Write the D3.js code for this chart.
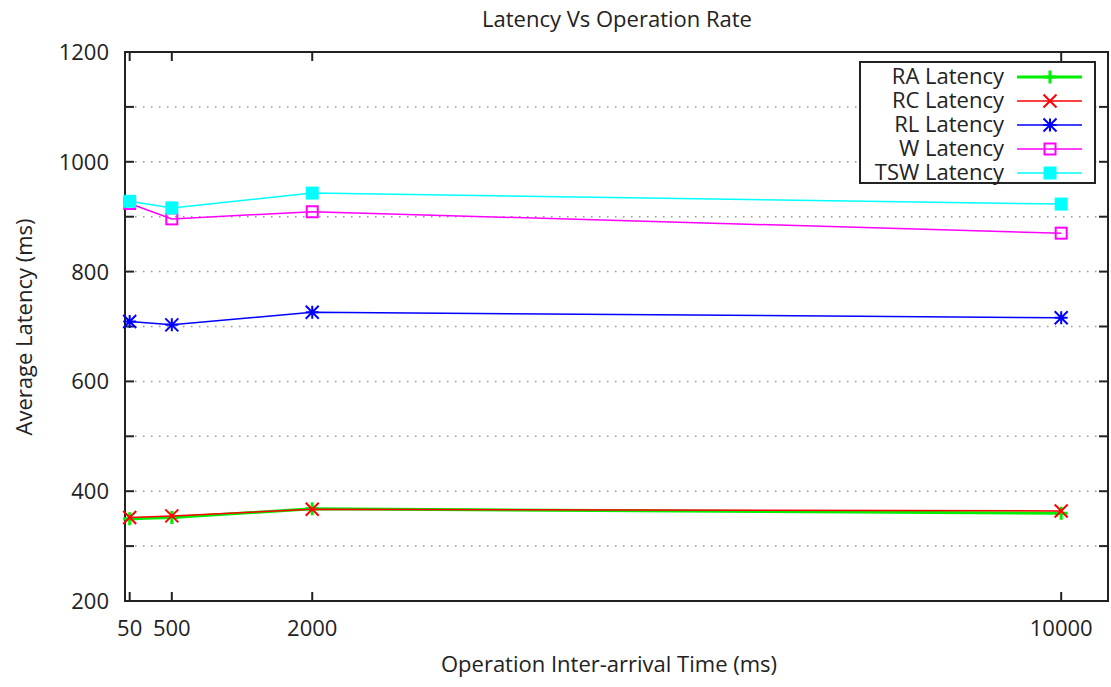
<!DOCTYPE html>
<html>
<head>
<meta charset="utf-8">
<script src="https://cdn.jsdelivr.net/npm/d3@7"></script>
<style>
  body { margin: 0; background: #fff; }
  text { font-family: "Open Sans", "DejaVu Sans", sans-serif; fill: #222; font-size: 22px; }
</style>
</head>
<body>
<svg id="chart" width="1111" height="687"></svg>
<script>
// x positions (inter-arrival time, ms)
const times = [50, 500, 2000, 10000];
const xTicks = [50, 500, 2000, 10000];
const yTicks = [200, 400, 600, 800, 1000, 1200];
const yMinor = [300, 500, 700, 900, 1100];

// latency values per series
const raLatency = [350, 352, 368, 360];
const rcLatency = [352, 355, 367, 364];
const rlLatency = [709, 703, 726, 716];
const wLatency = [924, 896, 909, 870];
const tswLatency = [928, 916, 943, 923];

const series = [
    { name: "RA Latency", values: raLatency, color: "#00ee00", width: 3, marker: "plus" },
    { name: "RC Latency", values: rcLatency, color: "#ff0000", width: 1.5, marker: "cross" },
    { name: "RL Latency", values: rlLatency, color: "#0000ff", width: 1.5, marker: "star" },
    { name: "W Latency", values: wLatency, color: "#ff00ff", width: 1.5, marker: "box" },
    { name: "TSW Latency", values: tswLatency, color: "#00ffff", width: 1.5, marker: "fbox" }
];

const svg = d3.select("#chart");
const margin = { top: 52, right: 3, bottom: 86, left: 125 };
const width = +svg.attr("width");
const height = +svg.attr("height");

const x = d3.scaleLinear()
    .domain([0, 10500])
    .range([margin.left, width - margin.right]);

const y = d3.scaleLinear()
    .domain([200, 1200])
    .range([height - margin.bottom, margin.top]);

// dotted grid lines
svg.append("g")
    .selectAll("line")
    .data(yTicks.concat(yMinor).filter(v => v > 200 && v < 1200))
    .enter().append("line")
    .attr("x1", x(0) + 10)
    .attr("x2", x(10500) - 10)
    .attr("y1", d => y(d))
    .attr("y2", d => y(d))
    .attr("stroke", "#999")
    .attr("stroke-width", 1.5)
    .attr("stroke-dasharray", "1.5,6.5");

// inward ticks, all four sides
const tickG = svg.append("g").attr("stroke", "#222").attr("stroke-width", 2);
const allY = yTicks.concat(yMinor);
tickG.selectAll(".tl").data(allY).enter().append("line")
    .attr("x1", x(0)).attr("x2", x(0) + 9)
    .attr("y1", d => y(d)).attr("y2", d => y(d));
tickG.selectAll(".tr").data(allY).enter().append("line")
    .attr("x1", x(10500)).attr("x2", x(10500) - 9)
    .attr("y1", d => y(d)).attr("y2", d => y(d));
tickG.selectAll(".tb").data(xTicks).enter().append("line")
    .attr("x1", d => x(d)).attr("x2", d => x(d))
    .attr("y1", y(200)).attr("y2", y(200) - 9);
tickG.selectAll(".tt").data(xTicks).enter().append("line")
    .attr("x1", d => x(d)).attr("x2", d => x(d))
    .attr("y1", y(1200)).attr("y2", y(1200) + 9);

// frame
svg.append("rect")
    .attr("x", x(0))
    .attr("y", y(1200))
    .attr("width", x(10500) - x(0))
    .attr("height", y(200) - y(1200))
    .attr("fill", "none")
    .attr("stroke", "#222")
    .attr("stroke-width", 2);

// tick labels
svg.append("g")
    .selectAll("text")
    .data(yTicks)
    .enter().append("text")
    .attr("x", x(0) - 16)
    .attr("y", d => y(d) + 8)
    .attr("text-anchor", "end")
    .text(d => d);

svg.append("g")
    .selectAll("text")
    .data(xTicks)
    .enter().append("text")
    .attr("x", d => x(d))
    .attr("y", y(200) + 35)
    .attr("text-anchor", "middle")
    .text(d => d);

// titles
svg.append("text")
    .attr("x", 617)
    .attr("y", 27)
    .attr("text-anchor", "middle")
    .text("Latency Vs Operation Rate");

svg.append("text")
    .attr("x", 609)
    .attr("y", 672)
    .attr("text-anchor", "middle")
    .text("Operation Inter-arrival Time (ms)");

svg.append("text")
    .attr("transform", "translate(32,327) rotate(-90)")
    .attr("text-anchor", "middle")
    .text("Average Latency (ms)");

// marker drawing
function drawMarker(g, type, color, cx, cy) {
    const s = 6.5;
    if (type === "plus") {
        g.append("path").attr("d", `M${cx - s},${cy}H${cx + s}M${cx},${cy - s}V${cy + s}`)
            .attr("stroke", color).attr("stroke-width", 3).attr("fill", "none");
    } else if (type === "cross") {
        g.append("path").attr("d", `M${cx - s},${cy - s}L${cx + s},${cy + s}M${cx - s},${cy + s}L${cx + s},${cy - s}`)
            .attr("stroke", color).attr("stroke-width", 2).attr("fill", "none");
    } else if (type === "star") {
        g.append("path").attr("d", `M${cx - s},${cy}H${cx + s}M${cx},${cy - s}V${cy + s}M${cx - s},${cy - s}L${cx + s},${cy + s}M${cx - s},${cy + s}L${cx + s},${cy - s}`)
            .attr("stroke", color).attr("stroke-width", 2).attr("fill", "none");
    } else if (type === "box") {
        g.append("rect").attr("x", cx - 5.5).attr("y", cy - 5.5).attr("width", 11).attr("height", 11)
            .attr("stroke", color).attr("stroke-width", 2).attr("fill", "none");
    } else if (type === "fbox") {
        g.append("rect").attr("x", cx - 6.5).attr("y", cy - 6.5).attr("width", 13).attr("height", 13)
            .attr("fill", color);
    }
}

const line = d3.line()
    .x((d, i) => x(times[i]))
    .y(d => y(d));

series.forEach(s => {
    const g = svg.append("g");
    g.append("path")
        .datum(s.values)
        .attr("d", line)
        .attr("fill", "none")
        .attr("stroke", s.color)
        .attr("stroke-width", s.width);
    s.values.forEach((v, i) => drawMarker(g, s.marker, s.color, x(times[i]), y(v)));
});

// legend
const legend = svg.append("g");
legend.append("rect")
    .attr("x", 860).attr("y", 62)
    .attr("width", 235).attr("height", 121)
    .attr("fill", "#fff")
    .attr("stroke", "#222")
    .attr("stroke-width", 2);

series.forEach((s, i) => {
    const ly = 77 + i * 24;
    legend.append("text")
        .attr("x", 1004)
        .attr("y", ly + 7)
        .attr("text-anchor", "end")
        .text(s.name);
    legend.append("line")
        .attr("x1", 1017).attr("x2", 1082)
        .attr("y1", ly).attr("y2", ly)
        .attr("stroke", s.color)
        .attr("stroke-width", s.width);
    drawMarker(legend, s.marker, s.color, 1050, ly);
});
</script>
</body>
</html>
